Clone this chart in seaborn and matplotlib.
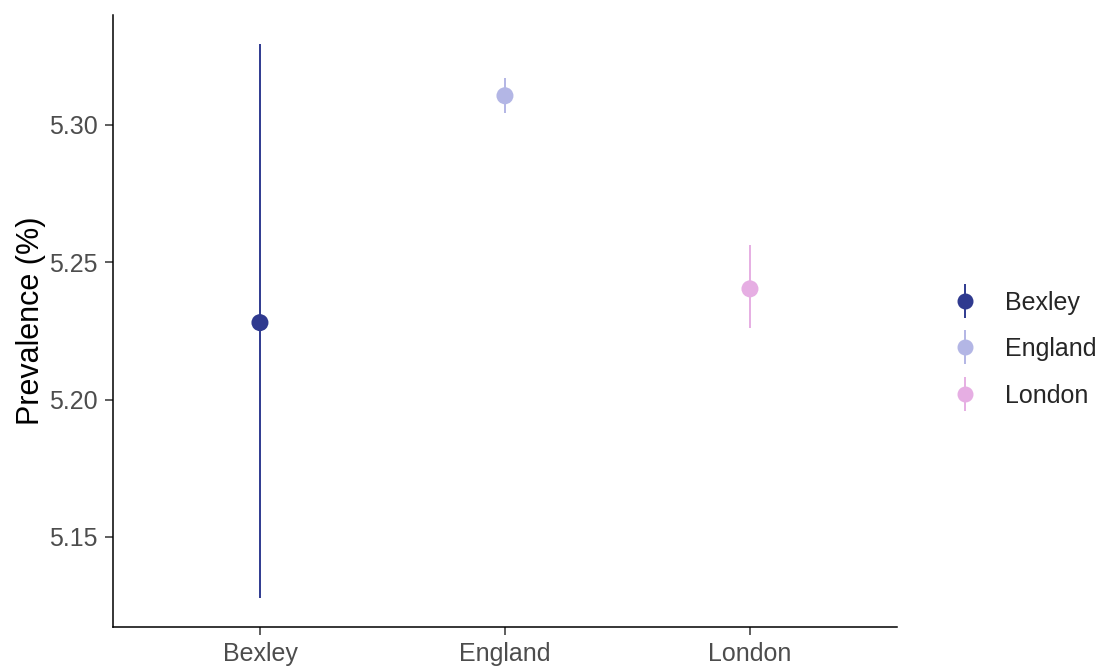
import numpy as np
import pandas as pd
import matplotlib.pyplot as plt
import seaborn as sns
from matplotlib.lines import Line2D
from matplotlib.legend_handler import HandlerTuple

# Data
areas = ['Bexley', 'England', 'London']
prevalence = [5.228, 5.3106, 5.2403]
lower_ci = [5.1278, 5.3044, 5.2261]
upper_ci = [5.3295, 5.3171, 5.2563]
colours = ['#2F3A8F', '#B3B6E5', '#E6AEE3']

df = pd.DataFrame({'area': areas, 'value': prevalence,
                   'lower': lower_ci, 'upper': upper_ci})

sns.set_style('ticks')
plt.rcParams['font.family'] = ['Liberation Sans', 'DejaVu Sans']

fig = plt.figure(figsize=(11.03, 6.69), dpi=100)
ax = fig.add_axes([0.1024, 0.0628, 0.7108, 0.9148])

palette = dict(zip(areas, colours))

# Error bars
ax.vlines(df['area'], df['lower'], df['upper'], colors=colours, linewidth=1.4, zorder=2)

# Points
sns.scatterplot(data=df, x='area', y='value', hue='area', palette=palette,
                s=150, edgecolor='none', legend=False, ax=ax, zorder=3)

ax.set_xlim(-0.6, 2.6)
ax.set_ylim(5.1172, 5.340)
ax.set_yticks([5.15, 5.20, 5.25, 5.30])
ax.set_yticklabels(['5.15', '5.20', '5.25', '5.30'])
ax.set_xlabel('')
ax.set_ylabel('Prevalence (%)', fontsize=22, color='black', labelpad=2)
ax.tick_params(axis='both', labelsize=18, labelcolor='#4D4D4D', color='#333333',
               length=6, width=1.1, pad=5)

for side in ['top', 'right']:
    ax.spines[side].set_visible(False)
for side in ['left', 'bottom']:
    ax.spines[side].set_color('black')
    ax.spines[side].set_linewidth(1.1)

# Legend with point + vertical line keys
handles = []
for c in colours:
    bar = Line2D([], [], marker='|', markersize=25, markeredgewidth=1.4,
                 linestyle='None', color=c)
    dot = Line2D([], [], marker='o', markersize=10.5, linestyle='None', color=c)
    handles.append((bar, dot))
fig.legend(handles, areas, handler_map={tuple: HandlerTuple(ndivide=1)},
           loc='center left', bbox_to_anchor=(0.839, 0.478), frameon=False,
           fontsize=18, handlelength=1.4, labelspacing=0.9, handletextpad=0.9)

plt.savefig('out.png', dpi=100)
